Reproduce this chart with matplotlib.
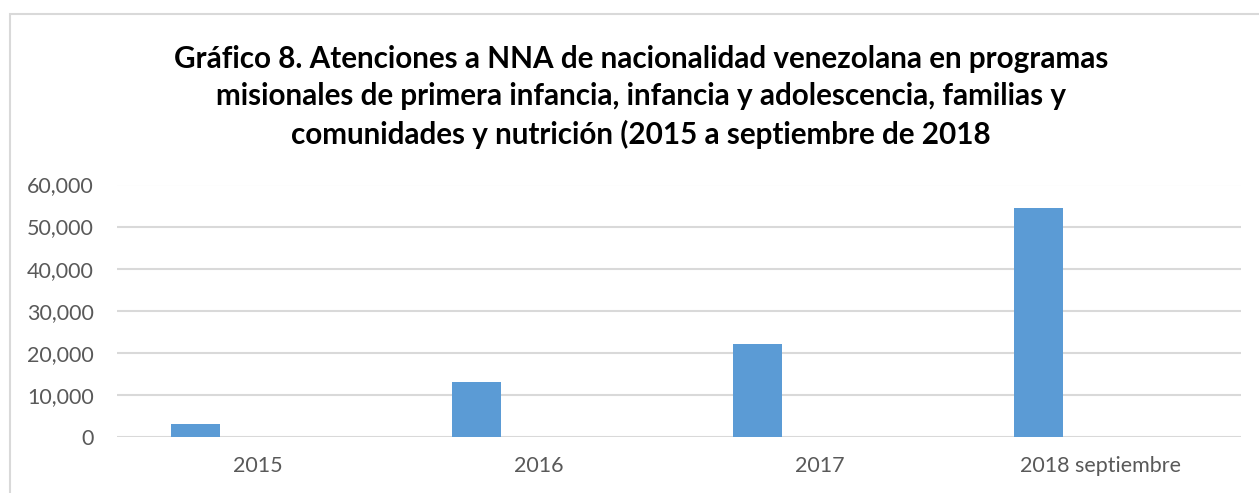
import numpy as np
import matplotlib
matplotlib.use("Agg")
import matplotlib.pyplot as plt
from matplotlib.patches import Rectangle
from matplotlib.ticker import FuncFormatter

# data
categories = ["2015", "2016", "2017", "2018 septiembre"]
atenciones = [3100, 13100, 22100, 54500]
y_ticks = [0, 10000, 20000, 30000, 40000, 50000, 60000]

title = ("Gráfico 8. Atenciones a NNA de nacionalidad venezolana en programas\n"
         "misionales de primera infancia, infancia y adolescencia, familias y\n"
         "comunidades y nutrición (2015 a septiembre de 2018")

W, H = 1259, 493
fig = plt.figure(figsize=(W / 100, H / 100), dpi=100)

# chart border (cropped on the right and bottom)
fig.patches.append(Rectangle((10 / W, -0.1), 1.2, 1 - 14 / H + 0.1,
                             transform=fig.transFigure, fill=False,
                             edgecolor="#d9d9d9", linewidth=1.5))

ax = fig.add_axes([117 / W, 1 - 437 / H, (1241 - 117) / W, (437 - 184.5) / H])

x = np.arange(len(categories))
bar_w = 0.174
offset = -0.221   # first slot of a clustered group
ax.bar(x + offset, atenciones, width=bar_w, color="#5b9bd5", zorder=3)

ax.set_xlim(-0.5, len(categories) - 0.5)
ax.set_ylim(0, 60000)
ax.set_yticks(y_ticks)
ax.yaxis.set_major_formatter(FuncFormatter(lambda v, p: f"{int(v):,}"))
ax.set_xticks(x)
ax.set_xticklabels(categories)
ax.grid(axis="y", color="#d9d9d9", linewidth=1.5, zorder=0)
ax.set_axisbelow(True)
for s in ax.spines.values():
    s.set_visible(False)
ax.tick_params(axis="both", length=0, colors="#595959", labelsize=15.5)
ax.tick_params(axis="y", pad=16.5)
ax.tick_params(axis="x", pad=13.5)
for lbl in ax.get_xticklabels() + ax.get_yticklabels():
    lbl.set_fontfamily("Lato")

fig.text(641 / W, 1 - 97 / H, title, ha="center", va="center",
         fontsize=21.3, fontweight="bold", family="Lato",
         linespacing=1.38, color="black")

fig.savefig("out.png", dpi=100)
